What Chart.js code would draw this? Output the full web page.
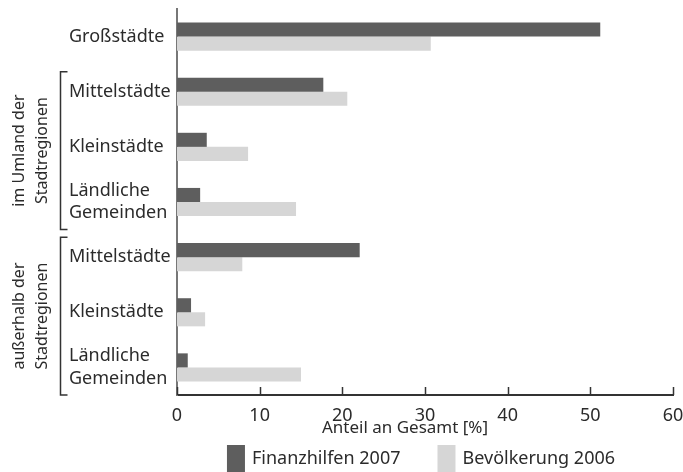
<!DOCTYPE html>
<html>
<head>
<meta charset="utf-8">
<script src="https://cdn.jsdelivr.net/npm/chart.js@4/dist/chart.umd.min.js"></script>
<style>
  html, body { margin: 0; padding: 0; background: #fff; }
  #wrap { width: 683px; height: 472px; }
</style>
</head>
<body>
<div id="wrap"><canvas id="c" width="683" height="472"></canvas></div>
<script>
// Gemeindetypen (Kategorien der y-Achse)
const categories = [
  'Großstädte',
  'Mittelstädte',
  'Kleinstädte',
  ['Ländliche', 'Gemeinden'],
  'Mittelstädte',
  'Kleinstädte',
  ['Ländliche', 'Gemeinden']
];
// Anteile in Prozent
const finanzhilfen2007 = [51.2, 17.7, 3.6, 2.8, 22.1, 1.7, 1.3];
const bevoelkerung2006 = [30.7, 20.6, 8.6, 14.4, 7.9, 3.4, 15.0];
const xTicks = [0, 10, 20, 30, 40, 50, 60];
// Gruppierungen: Beschriftung und Index der ersten/letzten Kategorie
const groups = [
  { lines: ['im Umland der', 'Stadtregionen'], from: 1, to: 3 },
  { lines: ['außerhalb der', 'Stadtregionen'], from: 4, to: 6 }
];

const FONT = 'Noto Sans';
const TEXT = '#2b2b2b';

// Zusatzelemente: nach innen zeigende Skalenstriche, Achsentitel,
// Klammern mit Gruppenbeschriftung und die Legende
const extras = {
  id: 'extras',
  afterDraw(chart) {
    const ctx = chart.ctx;
    const xs = chart.scales.x, ys = chart.scales.y;
    const area = chart.chartArea;
    ctx.save();
    // Skalenstriche
    ctx.strokeStyle = '#333';
    ctx.lineWidth = 1.5;
    xTicks.forEach(v => {
      const px = Math.round(xs.getPixelForValue(v)) + 0.5;
      ctx.beginPath();
      ctx.moveTo(px, area.bottom);
      ctx.lineTo(px, area.bottom - 8);
      ctx.stroke();
    });
    // Achsentitel
    ctx.fillStyle = TEXT;
    ctx.font = '17px "' + FONT + '"';
    ctx.textAlign = 'center';
    ctx.textBaseline = 'middle';
    ctx.fillText('Anteil an Gesamt [%]', 405, 428);
    // Klammern und gedrehte Gruppenbeschriftungen
    ctx.font = '16px "' + FONT + '"';
    groups.forEach(g => {
      const top = ys.getPixelForValue(g.from) - 20;
      const bot = ys.getPixelForValue(g.to) + 27.5;
      const bx = 60.5;
      ctx.strokeStyle = '#333';
      ctx.lineWidth = 1.5;
      ctx.beginPath();
      ctx.moveTo(bx + 7, top);
      ctx.lineTo(bx, top);
      ctx.lineTo(bx, bot);
      ctx.lineTo(bx + 7, bot);
      ctx.stroke();
      const cy = (top + bot) / 2;
      ctx.save();
      ctx.translate(31, cy);
      ctx.rotate(-Math.PI / 2);
      ctx.textAlign = 'center';
      ctx.textBaseline = 'middle';
      ctx.fillText(g.lines[0], 0, -11.5);
      ctx.fillText(g.lines[1], 0, 11.5);
      ctx.restore();
    });
    // Legende
    ctx.font = '18px "' + FONT + '"';
    ctx.textAlign = 'left';
    ctx.textBaseline = 'middle';
    const ds = chart.data.datasets;
    const boxW = 18, gapText = 7, gapItem = 37;
    const widths = ds.map(d => boxW + gapText + ctx.measureText(d.label).width);
    const total = widths.reduce((a, b) => a + b, 0) + gapItem * (ds.length - 1);
    let lx = 421 - total / 2;
    ds.forEach((d, i) => {
      ctx.fillStyle = d.backgroundColor;
      ctx.fillRect(lx, 445, boxW, 27);
      ctx.fillStyle = TEXT;
      ctx.fillText(d.label, lx + boxW + gapText, 459);
      lx += widths[i] + gapItem;
    });
    ctx.restore();
  }
};

new Chart(document.getElementById('c'), {
  type: 'bar',
  data: {
    labels: categories,
    datasets: [
      {
        label: 'Finanzhilfen 2007',
        data: finanzhilfen2007,
        backgroundColor: '#5e5e5e',
        categoryPercentage: 0.51,
        barPercentage: 1
      },
      {
        label: 'Bevölkerung 2006',
        data: bevoelkerung2006,
        backgroundColor: '#d6d6d6',
        categoryPercentage: 0.51,
        barPercentage: 1
      }
    ]
  },
  options: {
    indexAxis: 'y',
    responsive: false,
    animation: false,
    layout: { padding: { left: 69, right: 10, top: 9, bottom: 37 } },
    plugins: {
      tooltip: { enabled: false },
      legend: { display: false }
    },
    scales: {
      x: {
        min: 0,
        max: 60,
        afterFit(scale) {
          scale.height = 40;
          scale.paddingLeft = 0;
          scale.paddingRight = 0;
        },
        grid: { display: false },
        border: { display: true, color: '#333', width: 2 },
        ticks: {
          stepSize: 10,
          color: TEXT,
          padding: 2,
          maxRotation: 0,
          autoSkip: false,
          font: { family: FONT, size: 18 }
        }
      },
      y: {
        afterFit(scale) {
          scale.width = 108;
          scale.paddingTop = 0;
          scale.paddingBottom = 0;
        },
        grid: { display: false },
        border: { display: true, color: '#777', width: 2 },
        ticks: {
          color: TEXT,
          crossAlign: 'far',
          font: { family: FONT, size: 18, lineHeight: 1.25 }
        }
      }
    }
  },
  plugins: [extras]
});
</script>
</body>
</html>
